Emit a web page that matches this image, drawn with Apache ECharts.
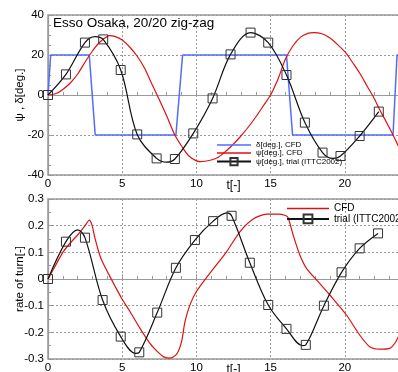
<!DOCTYPE html>
<html>
<head>
<meta charset="utf-8">
<script src="https://cdn.jsdelivr.net/npm/echarts@6/dist/echarts.min.js"></script>
<style>html,body{margin:0;padding:0;background:#fff}#c{width:398px;height:372px}</style>
</head>
<body>
<div id="c"></div>
<script>
// ---------- top panel: heading and rudder angle ----------
const deltaT   = [0, 0.18, 2.78, 3.18, 8.62, 9.07, 16.07, 16.48, 23.25, 23.52, 23.7];
const deltaDeg = [0, 20, 20, -20, -20, 20, 20, -20, -20, 20, 20];

const psiCfdT   = [0, 0.5, 1, 1.5, 2, 2.5, 3, 3.5, 4.17, 4.5, 5, 5.5, 6, 6.5, 7, 7.35, 8, 8.55, 9, 9.5, 10.23,
                   11, 11.5, 12, 12.5, 13, 13.5, 14, 14.5, 15, 15.5, 16, 16.5, 17, 17.5, 17.9,
                   18.5, 19, 19.5, 20.1, 20.5, 21, 21.5, 22, 22.36, 22.8, 23.25, 23.7];
const psiCfdDeg = [0, 0.6, 2.8, 6, 10.5, 16.5, 22, 26.5, 29.7, 29.3, 27.5, 24, 19.5, 13.5, 5.5, 0, -10.5, -20, -25.5, -30.5, -33.3,
                   -32.5, -31, -28, -24.5, -20.5, -16, -11, -5.5, 0, 8, 18, 24.5, 28.8, 30.8, 31.2,
                   30.5, 28.5, 25.3, 20.8, 16.5, 11, 4.5, -2, -7.5, -13.5, -20, -27];

const psiTrialT   = [0, 1.21, 2.49, 3.72, 4.9, 6.01, 7.32, 8.55, 9.79, 11.09, 12.3, 13.65, 14.84, 16.07, 17.31, 18.5, 19.71, 21.0, 22.29];
const psiTrialDeg = [0, 10.3, 26.2, 27.8, 12.5, -19.7, -31.7, -32, -19.2, -1.7, 20.3, 31.2, 26.2, 10, -13.8, -28.8, -30.5, -20.5, -8.3];
// curve extremes between trial markers (no symbol)
const psiTrialExtT   = [3.16, 8.0, 19.2];
const psiTrialExtDeg = [29.2, -33.6, -31.7];

// ---------- bottom panel: rate of turn ----------
const rCfdT = [0, 0.5, 1, 1.5, 2, 2.5, 2.78, 2.95, 3.17, 3.4, 3.61, 4.06, 4.5, 4.96, 5.5, 6.2, 6.87, 7.43, 7.8, 8.2, 8.67,
               9.0, 9.23, 9.56, 10.0, 10.9, 12.03, 12.93, 13.83, 14.73, 15.5, 16.0, 16.18, 16.52, 16.97, 17.42,
               18.2, 18.99, 20.11, 21.0, 21.68, 22.36, 23.03, 23.37, 23.7];
const rCfd  = [0, 0.05, 0.1, 0.135, 0.165, 0.2, 0.221, 0.205, 0.152, 0.105, 0.071, 0.021, -0.025, -0.072, -0.12, -0.185, -0.241, -0.275, -0.292, -0.297, -0.282,
               -0.235, -0.16, -0.098, -0.047, 0.021, 0.102, 0.177, 0.225, 0.243, 0.243, 0.238, 0.23, 0.165, 0.09, 0.04,
               -0.01, -0.06, -0.135, -0.21, -0.254, -0.263, -0.26, -0.241, -0.205];

const rTrialT = [0, 1.21, 2.49, 3.68, 4.9, 6.15, 7.36, 8.62, 9.9, 11.13, 12.37, 13.6, 14.84, 16.07, 17.37, 18.59, 19.78, 21.0, 22.24];
const rTrial  = [0, 0.14, 0.155, -0.079, -0.216, -0.275, -0.126, 0.042, 0.146, 0.217, 0.237, 0.061, -0.0975, -0.187, -0.247, -0.1, 0.025, 0.115, 0.171];
const rTrialExtT = [2.0, 5.9, 12.05, 17.15];
const rTrialExt  = [0.184, -0.279, 0.248, -0.25];

// axis tick values
const xTicks = [0, 5, 10, 15, 20];
const yTopTicks = [-40, -20, 0, 20, 40];
const yBotTicks = [-0.3, -0.2, -0.1, 0, 0.1, 0.2, 0.3];

// ---------- build ----------
const FONT = 'Liberation Sans, Arial, sans-serif';
const zip = (a, b) => a.map((v, i) => [v, b[i]]);
function merged(mt, mv, et, ev) {
  const pts = mt.map((t, i) => ({ value: [t, mv[i]] }))
    .concat(et.map((t, i) => ({ value: [t, ev[i]], symbol: 'none' })));
  pts.sort((p, q) => p.value[0] - q.value[0]);
  return pts;
}

const GRAY = '#9a9a9a';
function xAxis(gi) {
  return {
    type: 'value', gridIndex: gi, min: xTicks[0], max: 25, interval: xTicks[1] - xTicks[0],
    axisLine: { show: true, lineStyle: { color: GRAY, width: 1.2 } },
    axisTick: { show: true, inside: true, length: 5, lineStyle: { color: GRAY } },
    minorTick: { show: true, splitNumber: 5, length: 3, lineStyle: { color: GRAY } },
    axisLabel: { margin: 3, fontSize: 11.5, color: '#000', fontFamily: FONT },
    splitLine: { show: true, lineStyle: { color: GRAY, type: [2, 2], width: 1 } },
    name: 't[-]', nameLocation: 'middle', nameGap: 5, nameMoveOverlap: false,
    nameTextStyle: { fontSize: 12, color: '#000', fontFamily: FONT, verticalAlign: 'top' }
  };
}
function yAxis(gi, ticks, name, minorSplit) {
  return {
    type: 'value', gridIndex: gi, min: ticks[0], max: ticks[ticks.length - 1],
    interval: +(ticks[1] - ticks[0]).toFixed(6),
    axisLine: { show: true, lineStyle: { color: GRAY, width: 1.2 } },
    axisTick: { show: true, inside: true, length: 5, lineStyle: { color: GRAY } },
    minorTick: { show: true, splitNumber: minorSplit, length: 3, lineStyle: { color: GRAY } },
    axisLabel: { margin: 4, fontSize: 11.5, color: '#000', fontFamily: FONT,
      formatter: v => String(+v.toFixed(2)) },
    splitLine: { show: true, lineStyle: { color: GRAY, type: [2, 2], width: 1 } },
    name: name, nameLocation: 'middle', nameGap: 22, nameMoveOverlap: false,
    nameTextStyle: { fontSize: 11.5, color: '#000', fontFamily: FONT }
  };
}

const BLUE = '#4f6cff', RED = '#e01010', BLACK = '#111';
const LINE_ICON = 'path://M0,0H40V1.5H0Z';
const trialStyle = {
  type: 'line', symbol: 'rect', symbolSize: 9, showAllSymbol: true, smooth: 0.35,
  lineStyle: { color: BLACK, width: 1.2 },
  itemStyle: { color: 'rgba(255,255,255,0)', borderColor: '#333', borderWidth: 1 },
  emphasis: { disabled: true }, z: 4
};
const gridBase = { left: 48, width: 371, height: 160, show: true, borderColor: GRAY, borderWidth: 1.5,
  backgroundColor: 'transparent', containLabel: false, outerBoundsMode: 'none' };

const option = {
  animation: false,
  backgroundColor: '#fff',
  textStyle: { fontFamily: FONT },
  title: { text: 'Esso Osaka, 20/20 zig-zag', left: 53, top: 16, padding: 0,
    textStyle: { fontSize: 13.5, fontWeight: 'normal', color: '#000', fontFamily: FONT } },
  grid: [ Object.assign({ top: 15 }, gridBase), Object.assign({ top: 199 }, gridBase) ],
  xAxis: [xAxis(0), xAxis(1)],
  yAxis: [yAxis(0, yTopTicks, 'ψ , δ[deg.]', 4), yAxis(1, yBotTicks, 'rate of turn[-]', 2)],
  legend: [
    { data: [{ name: 'δ[deg.], CFD', icon: LINE_ICON }, { name: 'ψ[deg.], CFD', icon: LINE_ICON }, 'ψ[deg.], trial (ITTC2002)'],
      orient: 'vertical', left: 216, top: 141, padding: 0, itemGap: 0, itemWidth: 34, itemHeight: 9,
      textStyle: { fontSize: 8, color: '#000', fontFamily: FONT }, selectedMode: false },
    { data: [{ name: 'CFD', icon: LINE_ICON }, 'trial (ITTC2002)'], orient: 'vertical',
      left: 286, top: 203.5, padding: 0, itemGap: 0, itemWidth: 42, itemHeight: 11,
      textStyle: { fontSize: 10, color: '#000', fontFamily: FONT }, selectedMode: false }
  ],
  series: [
    { name: 'δ[deg.], CFD', type: 'line', xAxisIndex: 0, yAxisIndex: 0, data: zip(deltaT, deltaDeg),
      symbol: 'none', lineStyle: { color: BLUE, width: 1.5 }, itemStyle: { color: BLUE }, z: 2 },
    { name: 'ψ[deg.], CFD', type: 'line', xAxisIndex: 0, yAxisIndex: 0, data: zip(psiCfdT, psiCfdDeg),
      symbol: 'none', smooth: 0.3, lineStyle: { color: RED, width: 1.2 }, itemStyle: { color: RED }, z: 3 },
    Object.assign({ name: 'ψ[deg.], trial (ITTC2002)', xAxisIndex: 0, yAxisIndex: 0,
      data: merged(psiTrialT, psiTrialDeg, psiTrialExtT, psiTrialExtDeg) }, trialStyle),
    { name: 'CFD', type: 'line', xAxisIndex: 1, yAxisIndex: 1, data: zip(rCfdT, rCfd),
      symbol: 'none', smooth: 0.25, lineStyle: { color: RED, width: 1.2 }, itemStyle: { color: RED }, z: 3 },
    Object.assign({ name: 'trial (ITTC2002)', xAxisIndex: 1, yAxisIndex: 1,
      data: merged(rTrialT, rTrial, rTrialExtT, rTrialExt) }, trialStyle)
  ]
};
echarts.init(document.getElementById('c'), null, { renderer: 'canvas' }).setOption(option);
</script>
</body>
</html>
